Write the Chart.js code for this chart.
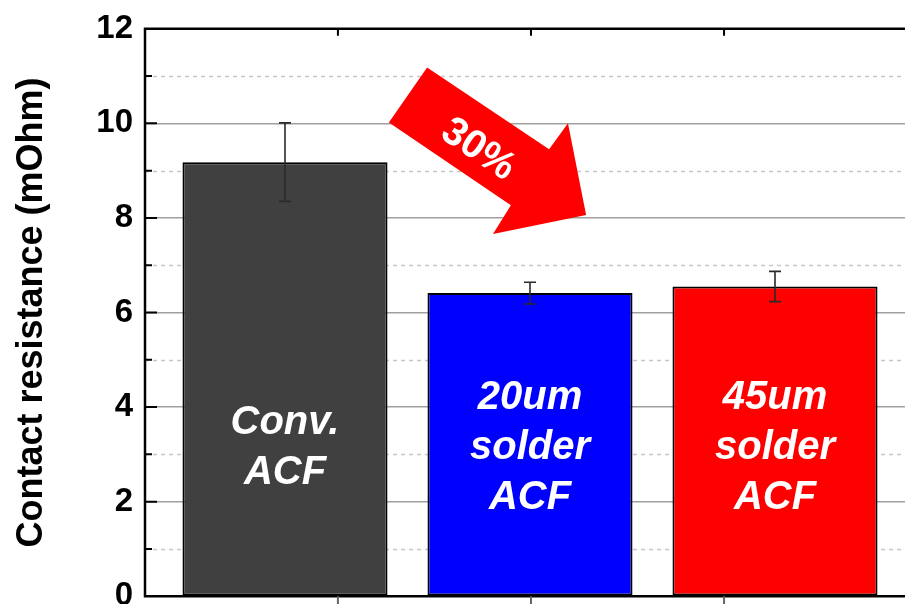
<!DOCTYPE html>
<html>
<head>
<meta charset="utf-8">
<title>Contact resistance</title>
<script src="https://cdn.jsdelivr.net/npm/chart.js@4/dist/chart.umd.min.js"></script>
<style>
    html, body { margin: 0; padding: 0; background: #fff; }
    .wrap { width: 905px; height: 604px; overflow: hidden; position: relative; }
    canvas { display: block; margin-top: -3px; }
</style>
</head>
<body>
<div class="wrap">
    <canvas id="resistanceChart" width="930" height="631"></canvas>
</div>
<script>
// categories and measured values
const categories = ['Conv. ACF', '20um solder ACF', '45um solder ACF'];
const barLabels = [['Conv.', 'ACF'], ['20um', 'solder', 'ACF'], ['45um', 'solder', 'ACF']];
const xPositions = [1, 2, 3];
const resistance = [9.18, 6.41, 6.55];
const resistanceErr = [0.83, 0.23, 0.32];
const yTickValues = [0, 2, 4, 6, 8, 10, 12];
const reductionLabel = '30%';

const barColors = ['#404040', '#0000FF', '#FF0000'];
const FONT = '"Liberation Sans", Arial, sans-serif';

// big red arrow, in axis units (x: category index, y: mOhm)
const arrowShape = [
    [1.580, 11.18], [2.078, 9.45], [2.155, 10.00], [2.229, 8.06],
    [1.849, 7.66], [1.922, 8.27], [1.424, 10.02]
];
const arrowText = { x: 1.788, y: 9.44 };

// x positions of the small ticks on top/bottom frame
const frameTicks = [1.216, 2.004, 2.792];

const decorations = {
    id: 'decorations',
    beforeDatasetsDraw(chart) {
        const { ctx, chartArea: a, scales: { y } } = chart;
        // dashed minor grid at odd values
        ctx.save();
        ctx.strokeStyle = '#c8c8c8';
        ctx.lineWidth = 1.5;
        ctx.setLineDash([4, 4]);
        for (let v = 1; v < 12; v += 2) {
            const py = Math.round(y.getPixelForValue(v)) + 0.5;
            ctx.beginPath();
            ctx.moveTo(a.left, py);
            ctx.lineTo(a.right, py);
            ctx.stroke();
        }
        ctx.restore();
    },
    afterDatasetsDraw(chart) {
        const { ctx, chartArea: a, scales: { x, y } } = chart;
        ctx.save();

        // error bars
        ctx.strokeStyle = '#2a2a2a';
        ctx.lineWidth = 1.6;
        resistance.forEach((v, i) => {
            const px = x.getPixelForValue(xPositions[i]);
            const top = y.getPixelForValue(v + resistanceErr[i]);
            const bot = y.getPixelForValue(v - resistanceErr[i]);
            ctx.beginPath();
            ctx.moveTo(px, top); ctx.lineTo(px, bot);
            ctx.moveTo(px - 6, top); ctx.lineTo(px + 6, top);
            ctx.moveTo(px - 6, bot); ctx.lineTo(px + 6, bot);
            ctx.stroke();
        });

        // labels inside the bars
        ctx.fillStyle = '#fff';
        ctx.font = 'italic bold 40px ' + FONT;
        ctx.textAlign = 'center';
        ctx.textBaseline = 'alphabetic';
        barLabels.forEach((lines, i) => {
            const px = x.getPixelForValue(xPositions[i]);
            const mid = y.getPixelForValue(2.91);
            const step = 50;
            lines.forEach((t, k) => {
                ctx.fillText(t, px, mid + (k - (lines.length - 1) / 2) * step);
            });
        });

        // reduction arrow
        ctx.fillStyle = '#FF0000';
        ctx.beginPath();
        arrowShape.forEach(([vx, vy], k) => {
            const px = x.getPixelForValue(vx), py = y.getPixelForValue(vy);
            k ? ctx.lineTo(px, py) : ctx.moveTo(px, py);
        });
        ctx.closePath();
        ctx.fill();

        const p1 = arrowShape[0], p2 = arrowShape[1];
        const ang = Math.atan2(y.getPixelForValue(p2[1]) - y.getPixelForValue(p1[1]),
                               x.getPixelForValue(p2[0]) - x.getPixelForValue(p1[0]));
        ctx.translate(x.getPixelForValue(arrowText.x), y.getPixelForValue(arrowText.y));
        ctx.rotate(ang);
        ctx.fillStyle = '#fff';
        ctx.font = 'bold 40px ' + FONT;
        ctx.textBaseline = 'middle';
        ctx.fillText(reductionLabel, 0, 0);
        ctx.restore();

        // frame and inward ticks
        ctx.save();
        ctx.strokeStyle = '#000';
        ctx.lineWidth = 2.5;
        ctx.beginPath();
        ctx.moveTo(a.right + 5, a.top); ctx.lineTo(a.left, a.top);
        ctx.lineTo(a.left, a.bottom); ctx.lineTo(a.right + 5, a.bottom);
        ctx.stroke();
        ctx.lineWidth = 2;
        ctx.beginPath();
        for (let v = 1; v < 12; v++) {
            const py = y.getPixelForValue(v);
            ctx.moveTo(a.left, py);
            ctx.lineTo(a.left + (v % 2 ? 7 : 12), py);
        }
        frameTicks.forEach(t => {
            const px = x.getPixelForValue(t);
            ctx.moveTo(px, a.top); ctx.lineTo(px, a.top + 7);
        });
        ctx.stroke();
        ctx.strokeStyle = '#666';
        ctx.beginPath();
        frameTicks.forEach(t => {
            const px = x.getPixelForValue(t);
            ctx.moveTo(px, a.bottom); ctx.lineTo(px, a.bottom + 8);
        });
        ctx.stroke();
        ctx.restore();
    }
};

new Chart(document.getElementById('resistanceChart'), {
    type: 'bar',
    data: {
        labels: categories,
        datasets: [{
            label: 'Contact resistance',
            data: resistance.map((v, i) => ({ x: xPositions[i], y: v })),
            backgroundColor: barColors,
            borderColor: '#000',
            borderWidth: 2,
            borderSkipped: false,
            barPercentage: 0.837,
            categoryPercentage: 1.0
        }]
    },
    options: {
        responsive: false,
        animation: false,
        layout: { padding: { left: 0, top: 24, right: 15, bottom: 16 } },
        plugins: {
            legend: { display: false },
            tooltip: { enabled: false }
        },
        scales: {
            x: {
                type: 'linear',
                display: false,
                offset: false,
                min: 1 - 140 / 245,
                max: 3 + 140 / 245,
                afterBuildTicks: (scale) => {
                    scale.ticks = xPositions.map(v => ({ value: v }));
                }
            },
            y: {
                min: 0,
                max: 12,
                afterFit: (scale) => { scale.width = 145; },
                afterBuildTicks: (scale) => {
                    scale.ticks = yTickValues.map(v => ({ value: v }));
                },
                ticks: {
                    color: '#000',
                    padding: 12,
                    font: { family: FONT, size: 33, weight: 'bold' }
                },
                grid: {
                    drawTicks: false,
                    lineWidth: 1.5,
                    color: (c) => (c.tick && (c.tick.value === 0 || c.tick.value === 12)) ? 'rgba(0,0,0,0)' : '#a0a0a0'
                },
                border: { display: false },
                title: {
                    display: true,
                    text: 'Contact resistance (mOhm)',
                    color: '#000',
                    padding: { top: 10, bottom: 0 },
                    font: { family: FONT, size: 36, weight: 'bold' }
                }
            }
        }
    },
    plugins: [decorations]
});
</script>
</body>
</html>
